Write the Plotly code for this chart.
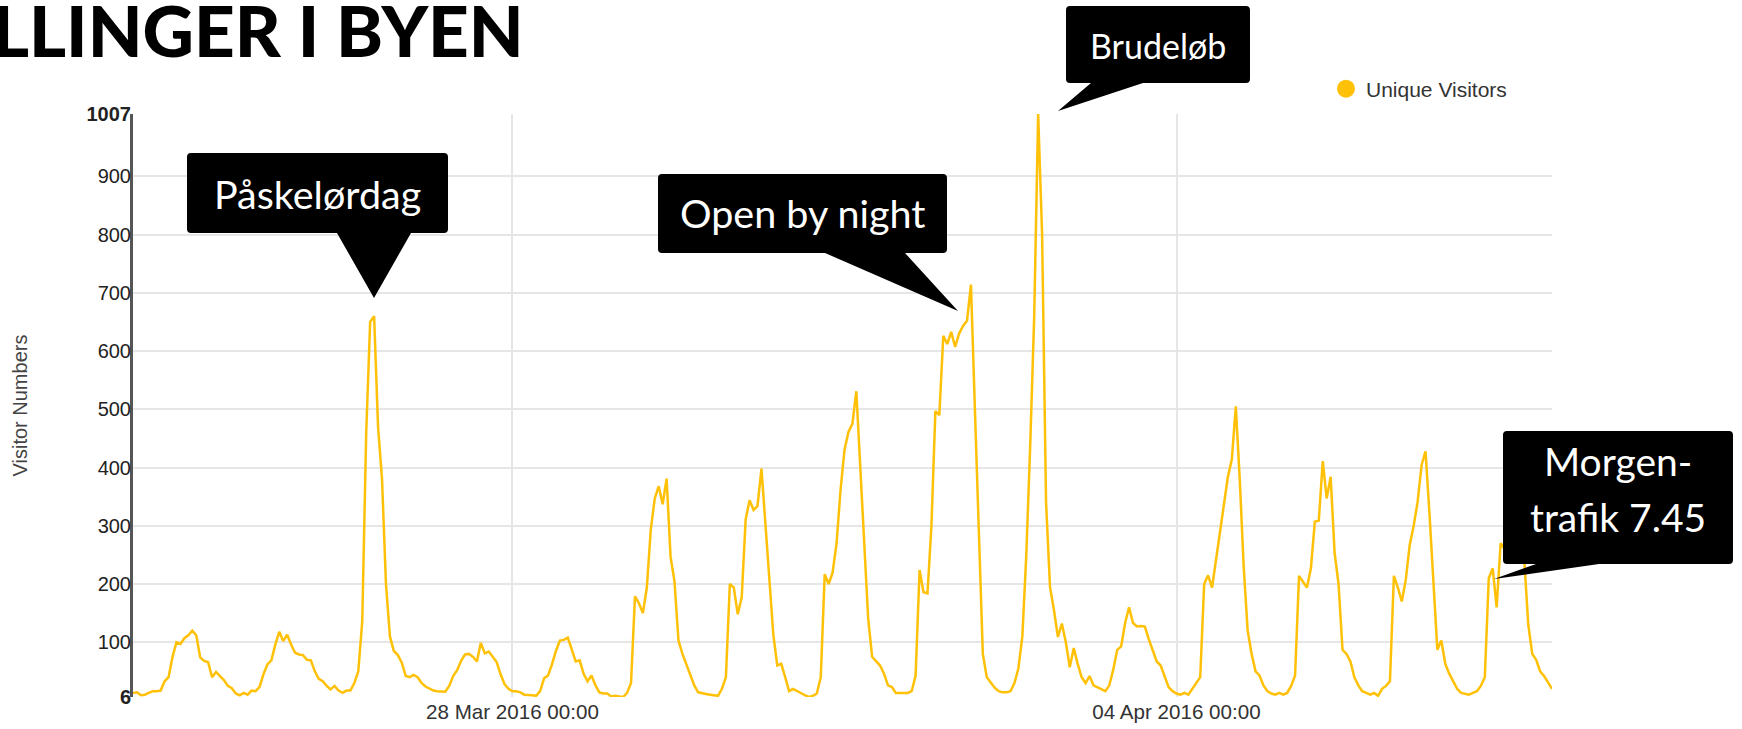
import pandas as pd
import plotly.graph_objects as go

# ---------------- data (hourly unique visitors) ----------------
start_time = "2016-03-24 00:00"
mar24 = [13, 14, 9, 10, 13, 16, 16, 17, 33, 40, 75, 100, 97, 107, 112, 120, 112, 74, 68, 66, 40, 49, 42, 35]
mar25 = [25, 21, 12, 9, 13, 10, 17, 16, 23, 45, 62, 69, 96, 118, 102, 113, 96, 82, 79, 78, 70, 69, 50, 37]
mar26 = [33, 25, 19, 25, 17, 13, 17, 17, 30, 50, 136, 460, 650, 660, 470, 380, 200, 110, 85, 78, 65, 42, 40, 44]
mar27 = [40, 30, 24, 21, 17, 16, 15, 15, 25, 42, 52, 68, 79, 80, 75, 67, 99, 81, 84, 74, 66, 45, 28, 20]
mar28 = [16, 16, 14, 10, 10, 9, 8, 16, 38, 43, 62, 85, 103, 104, 108, 87, 67, 69, 46, 33, 43, 26, 14, 12]
mar29 = [12, 7, 8, 7, 6, 13, 30, 179, 167, 150, 194, 294, 347, 368, 337, 381, 247, 204, 103, 80, 63, 43, 26, 14]
mar30 = [12, 11, 10, 9, 8, 20, 40, 200, 194, 148, 177, 311, 344, 327, 334, 398, 304, 207, 113, 60, 63, 40, 16, 20]
mar31 = [16, 12, 9, 6, 8, 12, 40, 217, 200, 220, 270, 361, 430, 461, 475, 531, 401, 270, 140, 75, 67, 60, 46, 26]
apr01 = [23, 13, 13, 13, 13, 16, 43, 224, 186, 184, 300, 497, 490, 626, 612, 633, 607, 630, 643, 652, 714, 500, 270, 80]
apr02 = [40, 30, 22, 16, 14, 14, 16, 30, 55, 110, 250, 440, 660, 1007, 800, 340, 195, 155, 109, 132, 100, 57, 90, 63]
apr03 = [40, 30, 42, 26, 23, 20, 16, 26, 53, 87, 93, 133, 160, 133, 127, 128, 127, 105, 87, 67, 60, 43, 23, 16]
apr04 = [12, 10, 13, 10, 20, 30, 40, 200, 215, 194, 240, 294, 340, 384, 414, 505, 380, 230, 120, 80, 50, 43, 26, 16]
apr05 = [12, 10, 13, 10, 13, 25, 43, 214, 204, 194, 227, 307, 309, 411, 347, 384, 254, 200, 87, 80, 67, 40, 26, 16]
apr06 = [13, 10, 13, 8, 20, 25, 33, 214, 194, 170, 207, 267, 300, 341, 404, 428, 321, 194, 87, 103, 63, 46, 33, 20]
apr07 = [13, 12, 10, 13, 16, 25, 40, 210, 227, 160, 270, 260, 290, 270, 285, 270, 240, 130, 80, 70, 50, 42, 30, 20]

y_tick_values = [6, 100, 200, 300, 400, 500, 600, 700, 800, 900, 1007]
y_tick_labels = ["<b>6</b>", "100", "200", "300", "400", "500", "600", "700", "800", "900", "<b>1007</b>"]
x_tick_values = ["2016-03-28 00:00", "2016-04-04 00:00"]

series_name = "Unique Visitors"
y_title = "Visitor Numbers"
page_title = "LLINGER I BYEN"
callout_texts = ["Påskelørdag", "Open by night", "Brudeløb", "Morgen-", "trafik 7.45"]

# ---------------- build ----------------
days = [mar24, mar25, mar26, mar27, mar28, mar29, mar30, mar31,
        apr01, apr02, apr03, apr04, apr05, apr06, apr07]
visitors = [v for d in days for v in d]
times = pd.date_range(start_time, periods=len(visitors), freq="h")

AMBER = "#FFC107"
FW, FH = 1742, 729
L, R, T, B = 133, 1552, 114, 697
W, H = R - L, B - T


def px_x(px):
    return (px - L) / W


def px_y(py):
    return (B - py) / H


def P(px, py):
    return f"{px_x(px):.5f},{px_y(py):.5f}"


def callout_path(x0, y0, x1, y1, bx1, bx2, tx, ty, r=4):
    return (f"M {P(x0 + r, y0)} L {P(x1 - r, y0)} Q {P(x1, y0)} {P(x1, y0 + r)} "
            f"L {P(x1, y1 - r)} Q {P(x1, y1)} {P(x1 - r, y1)} "
            f"L {P(bx2, y1)} L {P(tx, ty)} L {P(bx1, y1)} "
            f"L {P(x0 + r, y1)} Q {P(x0, y1)} {P(x0, y1 - r)} "
            f"L {P(x0, y0 + r)} Q {P(x0, y0)} {P(x0 + r, y0)} Z")


fig = go.Figure()
fig.add_trace(go.Scatter(x=times, y=visitors, mode="lines", name=series_name,
                         line=dict(color=AMBER, width=2.5), showlegend=False,
                         hoverinfo="x+y"))
fig.add_trace(go.Scatter(x=[None], y=[None], mode="markers", name=series_name,
                         marker=dict(color=AMBER, size=16, line=dict(color=AMBER, width=2)),
                         showlegend=True))

# callout boxes: (box x0,y0,x1,y1), pointer base x1,x2, tip
boxes = [
    ((187, 153, 448, 233), (337, 411), (374, 298)),
    ((658, 174, 947, 253), (825, 905), (958, 311)),
    ((1066, 6, 1250, 83), (1091, 1143), (1058, 111)),
    ((1503, 431, 1733, 564), (1536, 1599), (1494, 579)),
]
# text centres and sizes
text_pos = [(317, 193, 39.5), (802, 213, 39.5), (1158, 45, 34), (1618, 461, 39), (1618, 517, 39)]

shapes = []
for box, base, tip in boxes:
    shapes.append(dict(type="path", xref="paper", yref="paper", layer="above",
                       path=callout_path(*box, *base, *tip),
                       fillcolor="black", line=dict(width=0)))
annotations = []
for (tx, ty, ts), txt in zip(text_pos, callout_texts):
    annotations.append(dict(xref="paper", yref="paper", x=px_x(tx), y=px_y(ty),
                            text=txt, showarrow=False, xanchor="center", yanchor="middle",
                            font=dict(family="Lato", size=ts, color="white")))

annotations.append(dict(xref="paper", yref="paper", x=px_x(-10), y=px_y(30),
                        text=page_title, showarrow=False, xanchor="left", yanchor="middle",
                        font=dict(family="Lato", size=71, color="black", weight=900)))

fig.update_layout(
    width=FW, height=FH, autosize=False,
    margin=dict(l=L, r=FW - R, t=T, b=FH - B, pad=0, autoexpand=False),
    paper_bgcolor="white", plot_bgcolor="white",
    font=dict(family="Liberation Sans, Arial, sans-serif", size=20, color="#333"),
    showlegend=True,
    legend=dict(x=px_x(1326), y=px_y(89), xanchor="left", yanchor="middle",
                bgcolor="rgba(0,0,0,0)", font=dict(size=21, color="#333"),
                itemwidth=30),
    xaxis=dict(range=[times[0], times[-1]], tickvals=x_tick_values,
               tickformat="%d %b %Y %H:%M", showgrid=True, gridcolor="#e6e6e6",
               gridwidth=1.5, showline=False, zeroline=False, ticks="",
               tickfont=dict(size=20.6, color="#333")),
    yaxis=dict(range=[6, 1007], tickvals=y_tick_values, ticktext=y_tick_labels,
               showgrid=True, gridcolor="#e6e6e6", gridwidth=2, zeroline=False,
               showline=True, linecolor="#555", linewidth=3, ticks="",
               ticklabelstandoff=-5,
               tickfont=dict(size=20, color="#222"),
               title=dict(text=y_title, standoff=54, font=dict(size=20, color="#444"))),
    shapes=shapes,
    annotations=annotations,
)

fig.write_html("out.html", config={"displayModeBar": False},
               post_script="document.body.style.margin='0';")
